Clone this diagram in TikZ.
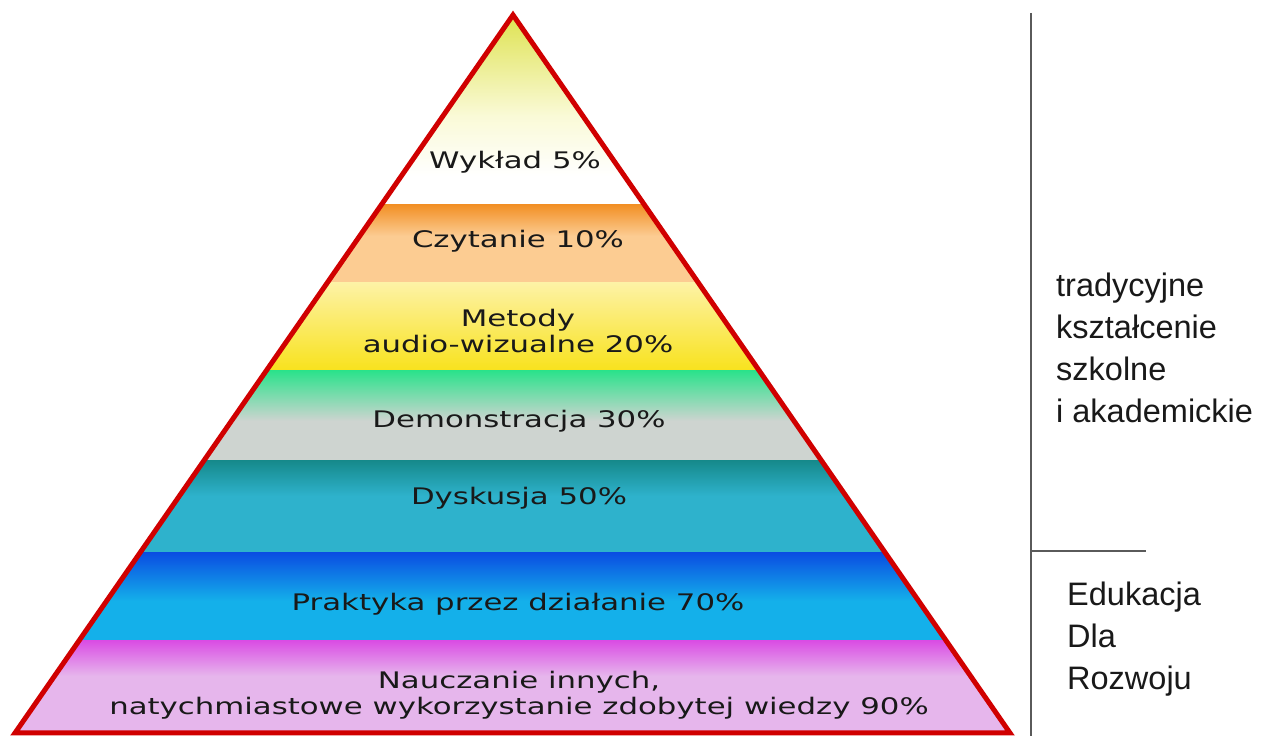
\documentclass[tikz,border=0pt]{standalone}
\usepackage{fontspec}
\setmainfont{Liberation Sans}
\newfontfamily\pyrfont{DejaVu Sans}[FakeStretch=1.35]
\usetikzlibrary{calc}
\definecolor{pyrred}{RGB}{208,0,0}
\definecolor{wykA}{RGB}{222,226,80}
\definecolor{wykB}{RGB}{250,250,215}
\definecolor{czyA}{RGB}{242,144,38}
\definecolor{czyB}{RGB}{252,204,146}
\definecolor{metA}{RGB}{253,242,165}
\definecolor{metB}{RGB}{248,226,28}
\definecolor{demA}{RGB}{44,226,140}
\definecolor{demB}{RGB}{206,212,208}
\definecolor{dysA}{RGB}{22,138,140}
\definecolor{dysB}{RGB}{46,178,204}
\definecolor{praA}{RGB}{10,78,226}
\definecolor{praB}{RGB}{20,176,234}
\definecolor{nauA}{RGB}{218,78,228}
\definecolor{nauB}{RGB}{230,182,236}
\definecolor{txtdark}{RGB}{25,25,25}
\definecolor{linegray}{RGB}{90,90,90}
\tikzset{
  lvl/.style={font=\pyrfont\fontsize{22.8}{26}\selectfont, text=txtdark, align=center, inner sep=0pt},
  side/.style={font=\fontsize{32.5}{42}\selectfont, text=txtdark, align=left, inner sep=0pt, anchor=west},
  outline/.style={draw=pyrred, line width=5pt, line join=miter},
  sep/.style={draw=linegray, line width=1.6pt}
}
\begin{document}
\begin{tikzpicture}[x=1pt,y=1pt]
\useasboundingbox[fill=white] (0,0) rectangle (1262,736);
\coordinate (apex) at (513,721);
\coordinate (bl) at (15,3);
\coordinate (br) at (1010,3);
% bands
\begin{scope}
\clip (apex) -- (bl) -- (br) -- cycle;
\shade[top color=wykA, bottom color=wykB] (0,620) rectangle (1262,722);
\shade[top color=wykB, bottom color=white] (0,560) rectangle (1262,620);
\fill[white] (0,531) rectangle (1262,560);
\shade[top color=czyA, bottom color=czyB] (0,500) rectangle (1262,531);
\fill[czyB] (0,453) rectangle (1262,500);
\shade[top color=metA, bottom color=metB] (0,365) rectangle (1262,453);
\shade[top color=demA, bottom color=demB] (0,315) rectangle (1262,365);
\fill[demB] (0,275) rectangle (1262,315);
\shade[top color=dysA, bottom color=dysB] (0,240) rectangle (1262,275);
\fill[dysB] (0,183) rectangle (1262,240);
\shade[top color=praA, bottom color=praB] (0,135) rectangle (1262,183);
\fill[praB] (0,95) rectangle (1262,135);
\shade[top color=nauA, bottom color=nauB] (0,60) rectangle (1262,95);
\fill[nauB] (0,3) rectangle (1262,60);
\end{scope}
\draw[outline] (apex) -- (bl) -- (br) -- cycle;
% labels
\node[lvl] (wyk) at (515,574) {Wykład 5\%};
\node[lvl] (czy) at (518,495) {Czytanie 10\%};
\node[lvl] (met) at (518,405) {Metody\\audio-wizualne 20\%};
\node[lvl] (dem) at (519,315) {Demonstracja 30\%};
\node[lvl] (dys) at (519,238) {Dyskusja 50\%};
\node[lvl] (pra) at (518,132) {Praktyka przez działanie 70\%};
\node[lvl] (nau) at (519,41) {Nauczanie innych,\\natychmiastowe wykorzystanie zdobytej wiedzy 90\%};
% right side
\coordinate (vtop) at (1031,723);
\coordinate (vbot) at (1031,0);
\coordinate (hl) at (1031,185);
\coordinate (hr) at (1146,185);
\draw[sep] (vtop) -- (vbot);
\draw[draw=linegray, line width=1.4pt] (hl) -- (hr);
\node[side] (trad) at (1056,388) {tradycyjne\\kształcenie\\szkolne\\i akademickie};
\node[side] (edu) at (1067,97) {Edukacja\\Dla\\Rozwoju};
\end{tikzpicture}
\end{document}
